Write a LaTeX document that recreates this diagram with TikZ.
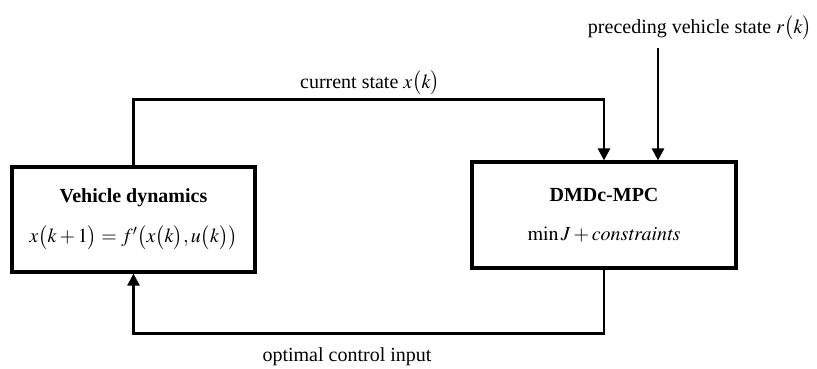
\documentclass[tikz,border=0pt]{standalone}
\usepackage{mathptmx}
\usepackage{fontspec}
\setmainfont{Liberation Serif}
\usepackage{tikz}
\usetikzlibrary{positioning,arrows.meta}
\tikzset{
  blockbox/.style={rectangle, draw, line width=3.2pt, align=center, inner sep=0pt},
  fwd/.style={-{Triangle[length=12pt,width=12pt]}, line width=2.6pt},
  lbl/.style={inner sep=0pt},
}
\newcommand{\bp}[1]{\bigl(#1\bigr)}

\begin{document}
\fontsize{20}{24}\selectfont
\begin{tikzpicture}[x=1pt, y=-1pt]
  \useasboundingbox (0,0) rectangle (817,368);
  \node[blockbox, minimum width=243pt, minimum height=105pt] (veh) at (133.5,219.5)
    {\textbf{Vehicle dynamics}\\[16pt] $x\bp{k+1}=f'\bp{x\bp{k},u\bp{k}}$};
  \node[blockbox, minimum width=264pt, minimum height=106pt] (mpc) at (604,215)
    {\textbf{DMDc-MPC}\\[15pt] $\min J+\mathit{constraints}$};
  \coordinate (ref) at (658,48);

  \node[lbl] (refl) at (700,28) {preceding vehicle state $r\bp{k}$};
  \node[lbl] (curl) at (370,83) {current state $x\bp{k}$};
  \node[lbl] (optl) at (347,357) {optimal control input};

  \draw[fwd] (veh.north) -- ++(0,-66) -| (mpc.north);
  \draw[fwd] (ref) -- (ref |- mpc.north);
  \draw[fwd] (mpc.south) -- ++(0,64) -| (veh.south);
\end{tikzpicture}
\end{document}
